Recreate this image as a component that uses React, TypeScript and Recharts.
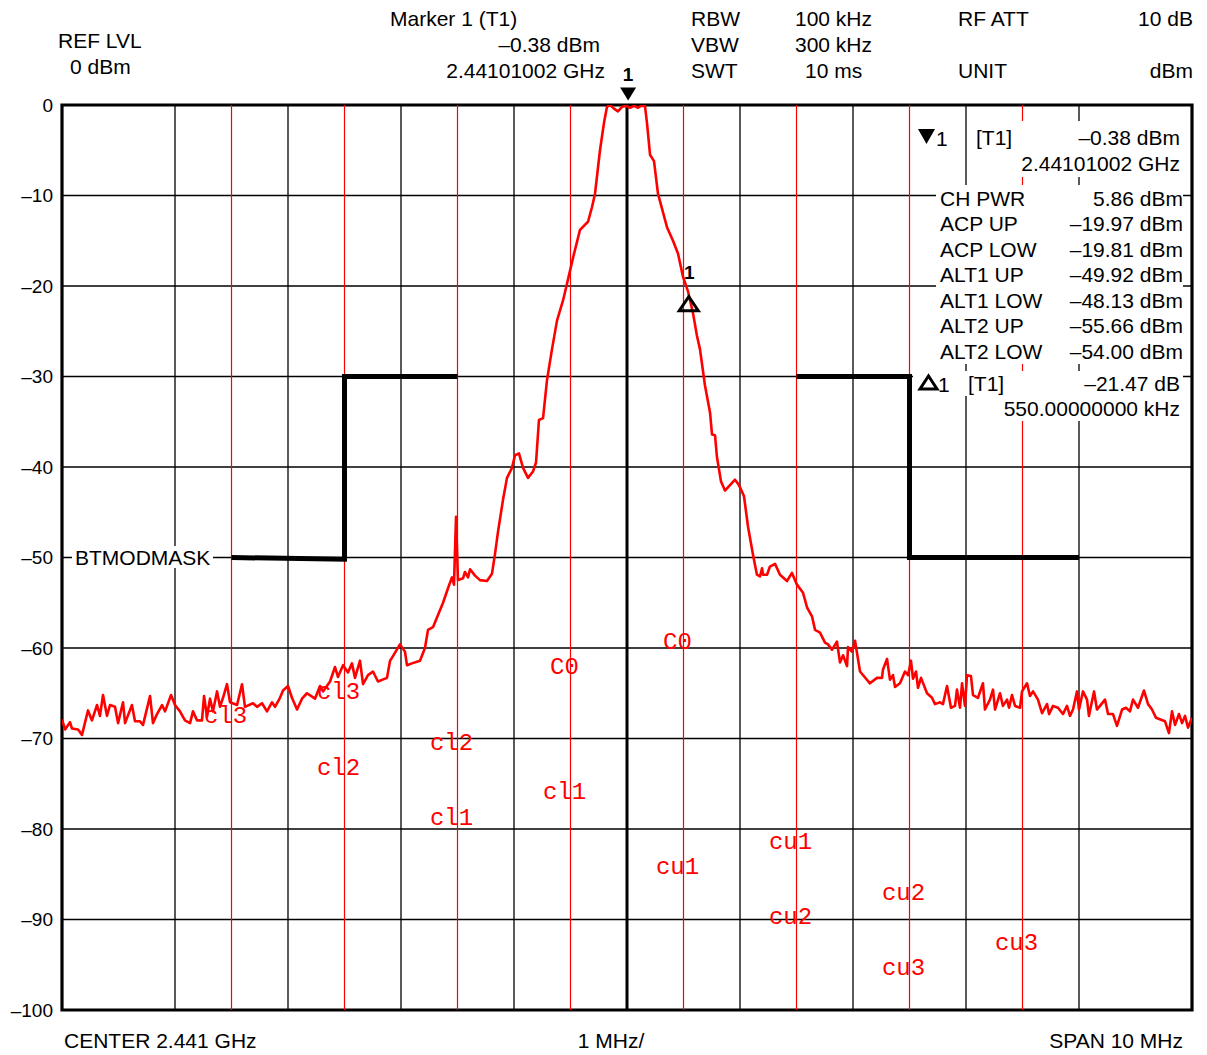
import React from 'react';
import { LineChart, Line, XAxis, YAxis, ReferenceLine, ReferenceArea, ReferenceDot } from 'recharts';

// Frequency offset from center (MHz) and level (dBm) of the measured trace
const traceFreqMHz = [
  -5.0, -4.973, -4.929, -4.912, -4.858, -4.823, -4.77, -4.735, -4.69, -4.664, -4.637, -4.602, -4.575, -4.531,
  -4.504, -4.46, -4.442, -4.381, -4.354, -4.31, -4.283, -4.221, -4.195, -4.159, -4.115, -4.088, -4.035, -4.0,
  -3.956, -3.912, -3.867, -3.841, -3.805, -3.761, -3.743, -3.717, -3.69, -3.664, -3.628, -3.602, -3.575, -3.54,
  -3.513, -3.451, -3.407, -3.381, -3.31, -3.274, -3.23, -3.186, -3.142, -3.115, -3.071, -3.044, -3.0, -2.965,
  -2.92, -2.876, -2.832, -2.761, -2.717, -2.69, -2.628, -2.584, -2.558, -2.513, -2.469, -2.434, -2.407, -2.363,
  -2.336, -2.292, -2.248, -2.204, -2.124, -2.097, -2.071, -2.009, -1.965, -1.947, -1.903, -1.832, -1.788, -1.761,
  -1.717, -1.628, -1.584, -1.549, -1.531, -1.513, -1.496, -1.451, -1.434, -1.407, -1.389, -1.345, -1.301, -1.239,
  -1.195, -1.168, -1.142, -1.097, -1.062, -1.018, -0.991, -0.956, -0.92, -0.876, -0.832, -0.805, -0.779, -0.743,
  -0.708, -0.664, -0.619, -0.566, -0.504, -0.478, -0.416, -0.345, -0.31, -0.283, -0.239, -0.204, -0.177, -0.15,
  -0.115, -0.08, -0.044, -0.009, 0.027, 0.062, 0.097, 0.124, 0.159, 0.177, 0.204, 0.239, 0.274, 0.354, 0.407,
  0.451, 0.496, 0.54, 0.584, 0.619, 0.646, 0.69, 0.735, 0.752, 0.779, 0.796, 0.832, 0.867, 0.956, 0.991, 1.035,
  1.071, 1.115, 1.15, 1.177, 1.195, 1.204, 1.239, 1.265, 1.31, 1.354, 1.416, 1.46, 1.504, 1.558, 1.593, 1.637,
  1.664, 1.708, 1.752, 1.779, 1.814, 1.858, 1.885, 1.912, 1.947, 1.956, 1.991, 2.018, 2.062, 2.15, 2.212, 2.257,
  2.265, 2.301, 2.327, 2.354, 2.372, 2.416, 2.46, 2.487, 2.513, 2.531, 2.558, 2.575, 2.602, 2.655, 2.699, 2.726,
  2.77, 2.796, 2.832, 2.867, 2.903, 2.92, 2.947, 2.965, 2.991, 3.009, 3.044, 3.062, 3.106, 3.15, 3.168, 3.212,
  3.239, 3.257, 3.301, 3.327, 3.363, 3.381, 3.407, 3.434, 3.478, 3.496, 3.54, 3.566, 3.593, 3.637, 3.673, 3.717,
  3.735, 3.77, 3.814, 3.858, 3.894, 3.92, 3.947, 3.982, 4.0, 4.035, 4.071, 4.088, 4.133, 4.159, 4.186, 4.23,
  4.257, 4.301, 4.336, 4.381, 4.416, 4.451, 4.478, 4.522, 4.575, 4.611, 4.646, 4.681, 4.761, 4.796, 4.823, 4.85,
  4.885, 4.912, 4.938, 4.965, 5.0,
];
const traceLevelDbm = [
  -67.9, -69.0, -68.2, -68.9, -69.0, -69.6, -66.9, -68.0, -66.3, -67.5, -65.2, -67.5, -66.3, -66.5,
  -68.3, -66.0, -68.3, -66.3, -68.1, -68.1, -68.5, -65.3, -68.3, -67.3, -66.3, -67.0, -65.2, -66.3,
  -67.0, -68.0, -68.3, -67.0, -68.0, -68.0, -65.3, -67.6, -65.6, -67.0, -64.8, -66.5, -65.5, -64.0,
  -66.0, -66.3, -64.0, -66.5, -66.1, -66.5, -66.1, -67.0, -66.0, -66.5, -65.5, -64.7, -64.2, -65.5,
  -66.8, -65.6, -65.0, -65.6, -64.2, -64.8, -63.7, -62.1, -63.2, -61.9, -62.7, -61.7, -63.3, -61.4,
  -64.0, -63.0, -62.6, -63.7, -63.3, -61.4, -60.9, -59.6, -60.4, -61.9, -61.7, -61.4, -60.0, -58.0,
  -57.7, -55.0, -53.4, -52.2, -53.0, -45.5, -52.5, -52.3, -51.6, -52.2, -51.3, -52.0, -52.5, -52.6,
  -51.8, -49.6, -47.2, -43.6, -41.2, -40.1, -38.7, -38.5, -40.1, -41.2, -40.5, -39.5, -34.8, -34.6,
  -30.4, -27.0, -23.8, -21.6, -18.3, -16.9, -13.8, -12.9, -11.3, -9.8, -5.0, -2.0, -0.2, 0,
  -0.4, -0.7, -0.2, -0.1, -0.3, -0.1, -0.3, -0.1, -0.1, -2.0, -5.5, -6.2, -9.8, -13.5, -15.0,
  -16.4, -19.0, -20.6, -23.0, -25.5, -27.0, -31.0, -34.0, -36.4, -36.5, -38.9, -41.6, -42.6, -41.4, -42.0, -43.2,
  -46.6, -49.7, -51.9, -52.1, -51.2, -51.9, -51.9, -51.0, -50.7, -51.9, -52.6, -51.7, -53.0, -53.9, -55.5, -56.5,
  -58.0, -58.3, -59.4, -59.6, -60.2, -59.3, -61.6, -60.8, -62.0, -59.9, -60.4, -59.2, -62.6, -63.9, -63.3, -63.3,
  -62.4, -61.2, -63.5, -63.0, -64.3, -63.9, -62.6, -63.0, -61.4, -63.4, -62.6, -64.4, -63.3, -65.0, -65.5, -66.2,
  -66.0, -66.2, -64.2, -66.6, -66.4, -64.6, -66.6, -63.9, -66.4, -63.0, -63.1, -65.2, -65.5, -63.9, -66.8, -65.7,
  -64.6, -66.8, -65.0, -66.4, -65.7, -66.6, -65.2, -66.4, -66.6, -64.8, -63.9, -65.3, -64.8, -65.7, -67.2, -66.2,
  -67.3, -66.4, -66.6, -67.3, -66.4, -67.5, -66.8, -64.8, -66.8, -64.8, -65.7, -67.5, -64.8, -66.8, -66.4, -65.7,
  -67.3, -67.3, -68.6, -66.8, -66.6, -67.0, -65.7, -66.6, -64.7, -66.2, -66.8, -67.7, -68.1, -69.4, -67.0, -68.5,
  -67.3, -68.3, -67.5, -68.8, -67.7,
];

// BT modulation mask (two parts)
const maskLowFreq = [-3.5, -2.5, -2.5, -1.5];
const maskLowLevel = [-50, -50.2, -30, -30];
const maskUpFreq = [1.5, 2.5, 2.5, 4.0];
const maskUpLevel = [-30, -30, -50, -50];

// Axes / grid
const freqDivisions = [-5, -4, -3, -2, -1, 0, 1, 2, 3, 4, 5];
const levelTicks = [0, -10, -20, -30, -40, -50, -60, -70, -80, -90, -100];
const channelEdges = [-3.5, -2.5, -1.5, -0.5, 0.5, 1.5, 2.5, 3.5];

// Channel labels (drawn at both edges of each channel)
const channelNames = ['cl3', 'cl2', 'cl1', 'C0', 'cu1', 'cu2', 'cu3'];
const channelLeftLevel = [-67.6, -73.3, -78.8, -62.2, -84.3, -89.8, -95.4];
const channelRightLevel = [-64.9, -70.5, -76.0, -59.4, -81.5, -87.1, -92.6];

// Markers
const marker1Freq = 0.01;
const marker1Level = -0.38;
const delta1Freq = 0.56;
const delta1Level = -21.85;

// Readouts
const acpNames = ['CH PWR', 'ACP UP', 'ACP LOW', 'ALT1 UP', 'ALT1 LOW', 'ALT2 UP', 'ALT2 LOW'];
const acpValues = ['5.86 dBm', '–19.97 dBm', '–19.81 dBm', '–49.92 dBm', '–48.13 dBm', '–55.66 dBm', '–54.00 dBm'];

const traceData = traceFreqMHz.map((f, i) => ({ f, v: traceLevelDbm[i] }));
const maskLowData = maskLowFreq.map((f, i) => ({ f, v: maskLowLevel[i] }));
const maskUpData = maskUpFreq.map((f, i) => ({ f, v: maskUpLevel[i] }));

const channelLabelPoints: { f: number; v: number; name: string }[] = [];
channelNames.forEach((name, i) => {
  channelLabelPoints.push({ f: channelEdges[i], v: channelLeftLevel[i], name });
  channelLabelPoints.push({ f: channelEdges[i + 1], v: channelRightLevel[i], name });
});

const FONT = '"Liberation Sans", Arial, sans-serif';
const fmtLevel = (v: number) => (v === 0 ? '0' : '–' + Math.abs(v));

const T = (p: { x: number; y: number; a?: 'start' | 'middle' | 'end'; s?: number; w?: number; children: React.ReactNode }) => (
  <text x={p.x} y={p.y} textAnchor={p.a || 'start'} dominantBaseline="central" fontSize={p.s || 21} fontWeight={p.w || 400} fill="#000" fontFamily={FONT}>
    {p.children}
  </text>
);

export default function App() {
  return (
    <div style={{ position: 'absolute', left: 0, top: 0, width: 1207, height: 1055, background: '#fff' }}>
      <LineChart width={1207} height={1055} margin={{ top: 105, right: 15, bottom: 45, left: 0 }}>
        <XAxis type="number" dataKey="f" domain={[-5, 5]} ticks={freqDivisions} hide allowDataOverflow />
        <YAxis
          type="number"
          domain={[-100, 0]}
          ticks={levelTicks}
          interval={0}
          width={62}
          axisLine={false}
          tickLine={false}
          tickSize={0}
          tickMargin={9}
          allowDataOverflow
          tickFormatter={fmtLevel}
          tick={{ fontSize: 19, fill: '#000', fontFamily: FONT }}
        />
        {levelTicks.map((v) => (
          <ReferenceLine key={'h' + v} y={v} stroke="#000" strokeWidth={1.3} />
        ))}
        {freqDivisions.map((f) => (
          <ReferenceLine key={'v' + f} x={f} stroke="#000" strokeWidth={f === 0 ? 3 : 1.3} />
        ))}
        {channelEdges.map((f) => (
          <ReferenceLine key={'c' + f} x={f} stroke="#ff0000" strokeWidth={1.2} />
        ))}
        <ReferenceArea x1={-5} x2={5} y1={-100} y2={0} fill="none" fillOpacity={0} stroke="#000" strokeWidth={3.2} />
        {channelLabelPoints.map((p, i) => (
          <ReferenceDot
            key={'l' + i}
            x={p.f}
            y={p.v}
            r={0}
            shape={(props: any) => (
              <text x={props.cx - 6} y={props.cy} textAnchor="middle" dominantBaseline="central" fontSize={24} fill="#ff0000" fontFamily='"Liberation Mono", monospace'>
                {p.name}
              </text>
            )}
          />
        ))}
        <Line data={maskLowData} dataKey="v" type="linear" stroke="#000" strokeWidth={5} dot={false} isAnimationActive={false} />
        <Line data={maskUpData} dataKey="v" type="linear" stroke="#000" strokeWidth={5} dot={false} isAnimationActive={false} />
        <Line data={traceData} dataKey="v" type="linear" stroke="#ff0000" strokeWidth={2.6} dot={false} isAnimationActive={false} strokeLinejoin="round" />
        <ReferenceDot
          x={marker1Freq}
          y={marker1Level}
          r={0}
          ifOverflow="visible"
          shape={(props: any) => (
            <g>
              <polygon points={`${props.cx - 8},${props.cy - 21} ${props.cx + 8},${props.cy - 21} ${props.cx},${props.cy - 8}`} fill="#000" />
              <text x={props.cx} y={props.cy - 34} textAnchor="middle" dominantBaseline="central" fontSize={19} fontWeight={700} fontFamily={FONT}>1</text>
            </g>
          )}
        />
        <ReferenceDot
          x={delta1Freq}
          y={delta1Level}
          r={0}
          ifOverflow="visible"
          shape={(props: any) => (
            <g>
              <polygon points={`${props.cx - 11},${props.cy + 8} ${props.cx + 8},${props.cy + 8} ${props.cx - 1.5},${props.cy - 6}`} fill="none" stroke="#000" strokeWidth={3} />
              <text x={props.cx - 1} y={props.cy - 30} textAnchor="middle" dominantBaseline="central" fontSize={19} fontWeight={700} fontFamily={FONT}>1</text>
            </g>
          )}
        />
      </LineChart>
      <svg width={1207} height={1055} style={{ position: 'absolute', left: 0, top: 0, pointerEvents: 'none' }}>
        {/* header */}
        <T x={58} y={40}>REF LVL</T>
        <T x={70} y={66}>0 dBm</T>
        <T x={390} y={18}>Marker 1 (T1)</T>
        <T x={600} y={44} a="end">–0.38 dBm</T>
        <T x={605} y={70} a="end">2.44101002 GHz</T>
        <T x={691} y={18}>RBW</T>
        <T x={691} y={44}>VBW</T>
        <T x={691} y={70}>SWT</T>
        <T x={795} y={18}>100 kHz</T>
        <T x={795} y={44}>300 kHz</T>
        <T x={805} y={70}>10 ms</T>
        <T x={958} y={18}>RF ATT</T>
        <T x={958} y={70}>UNIT</T>
        <T x={1193} y={18} a="end">10 dB</T>
        <T x={1193} y={70} a="end">dBm</T>

        {/* readout backgrounds */}
        <rect x={969} y={121} width={214} height={56} fill="#fff" />
        <rect x={936} y={185} width={247} height={179} fill="#fff" />
        <rect x={913} y={371} width={270} height={25} fill="#fff" />
        <rect x={1000} y={396} width={183} height={25} fill="#fff" />
        <rect x={72} y={546} width={141} height={22} fill="#fff" />

        {/* marker readout */}
        <polygon points="918,129 935,129 926.5,144" fill="#000" />
        <T x={936} y={138}>1</T>
        <T x={976} y={137}>[T1]</T>
        <T x={1180} y={137} a="end">–0.38 dBm</T>
        <T x={1180} y={163} a="end">2.44101002 GHz</T>
        {acpNames.map((n, i) => (
          <React.Fragment key={n}>
            <T x={940} y={198 + i * 25.5}>{n}</T>
            <T x={1183} y={198 + i * 25.5} a="end">{acpValues[i]}</T>
          </React.Fragment>
        ))}
        <polygon points="920,389 937,389 928.5,376" fill="none" stroke="#000" strokeWidth={3} />
        <T x={938} y={384}>1</T>
        <T x={968} y={383}>[T1]</T>
        <T x={1180} y={383} a="end">–21.47 dB</T>
        <T x={1180} y={408} a="end">550.00000000 kHz</T>

        <T x={75} y={557}>BTMODMASK</T>

        {/* footer */}
        <T x={64} y={1040}>CENTER 2.441 GHz</T>
        <T x={611} y={1040} a="middle">1 MHz/</T>
        <T x={1183} y={1040} a="end">SPAN 10 MHz</T>
      </svg>
    </div>
  );
}
